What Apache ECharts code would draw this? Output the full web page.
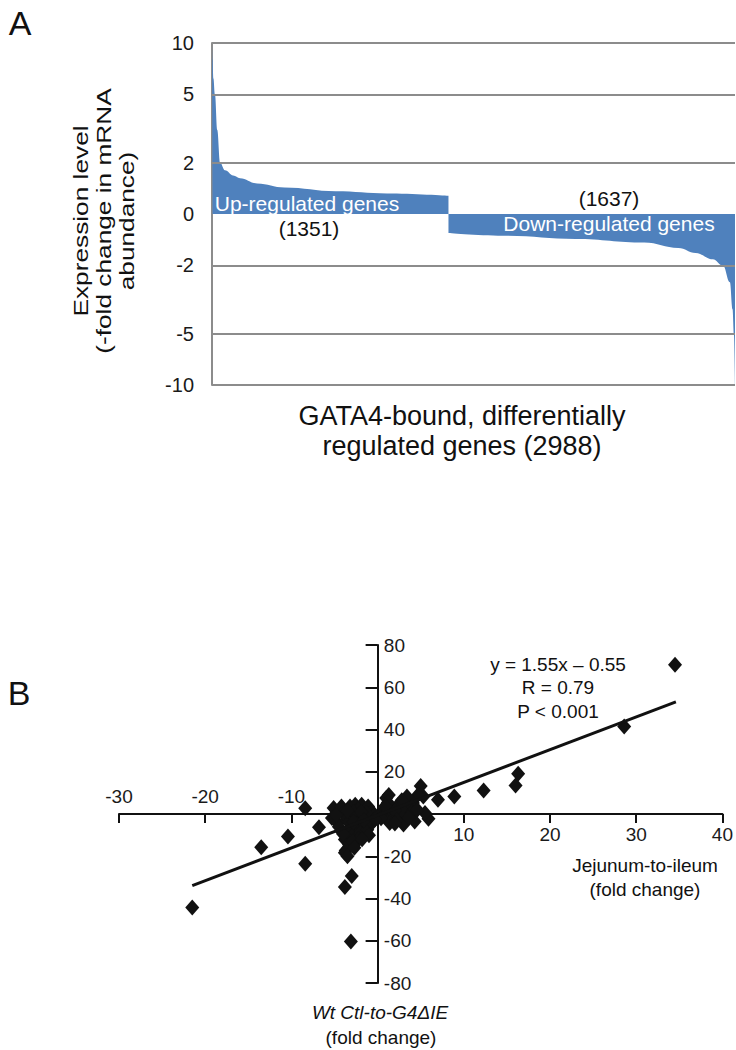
<!DOCTYPE html>
<html><head><meta charset="utf-8">
<script src="https://cdn.jsdelivr.net/npm/echarts@6/dist/echarts.min.js"></script>
<style>html,body{margin:0;padding:0;background:#fff}#c{width:736px;height:1050px}</style>
</head><body><div id="c"></div>
<script>
// ---------- Panel A data (gene rank 0..2988, fold change) ----------
const upRank   = [0, 3, 8, 17, 30, 46, 74, 121, 160, 258, 414, 707, 1000, 1351];
const upFold   = [10, 8, 6.2, 5, 3.1, 2.0, 1.8, 1.68, 1.62, 1.51, 1.43, 1.36, 1.32, 1.28];
const downRank = [1351, 1687, 2078, 2469, 2665, 2763, 2861, 2920, 2959, 2974, 2982, 2988];
const downFold = [-1.29, -1.34, -1.40, -1.47, -1.58, -1.69, -1.84, -2.01, -2.51, -3.6, -5.1, -10];
const aTickFold   = [10, 5, 2, 0, -2, -5, -10];
const aTickLabels = ['10', '5', '2', '0', '-2', '-5', '-10'];
const aGridFold   = [10, 5, 2, -2, -5, -10];
const totalGenes = 2988;

// ---------- Panel B data ----------
const bX = [34.5, 28.6, 16.3, 16.0, 12.3, 8.9, 7.0, 5.0, 5.9, 5.3, 4.7, 4.1, 3.4, 3.6, 2.4, 1.0, 1.4, 0.85, 1.8, 2.6, 4.3, 1.4, 3.0, 5.5, 3.0, 2.0, 0.5, 1.3, 2.2, 0.4,
  1.2, 2.8, 3.9, 4.6, 0.9, 2.0, 3.6,
  -21.5, -3.1, -3.8, -3.0, -8.4, -13.5, -10.4, -6.8, -8.4, -3.7,
  -5.1, -4.2, -3.2, -2.6, -1.85, -1.1, -0.7, -2.2, -5.3, -4.6, -3.6, -2.6, -1.7, -0.9, -4.2, -3.2, -2.2, -1.5, -3.8, -3.0, -3.4, -3.8, -0.5, -1.3, -2.8, -4.0, -2.0, -2.5, -1.2, -0.6, -4.5, -2.8, -1.9, -3.5, -1.0, -2.2, -3.0, -0.3, -4.8, -1.6,
  -3.3, -2.9, -3.5, -2.7, -4.0, -1.8];
const bY = [70.7, 41.4, 19.0, 13.5, 11.1, 8.3, 6.7, 13.3, -2.3, 8.3, 9.1, 5.2, 8.3, 2.8, 4.4, 7.6, 2.8, -0.3, -2.7, -1.1, -3.5, -4.3, -5.0, 0.5, 1.0, 1.5, 1.0, 9.0, -3.0, -2.0,
  5.5, 6.5, 0.5, 2.0, 3.8, -4.5, -1.8,
  -44.3, -60.4, -34.6, -29.3, -23.6, -15.7, -10.7, -6.3, 2.7, -17.3,
  2.8, 3.6, 3.6, 4.4, 4.4, 3.6, 1.3, 2.0, -1.9, -4.3, -2.7, -1.9, -2.7, -1.9, -8.2, -7.4, -5.8, -5.0, -12.1, -10.5, -16.1, -18.4, -0.8, 0.5, 0.8, 0.5, -9.0, -13.5, -7.5, -4.0, -6.0, -3.8, 1.0, 1.5, -10.0, -11.8, -14.0, -2.5, -0.5, -3.0,
  -14.6, -13.0, -20.0, -16.0, -9.5, -12.0];
const fitX = [-21.5, 34.6];
const fitY = [-33.9, 53.1];
const bXMin = -30, bXMax = 40, bXStep = 10;
const bYMin = -80, bYMax = 80, bYStep = 20;

// ---------- helpers ----------
const slog = v => v === 0 ? 0 : Math.sign(v) * Math.log2(Math.abs(v));
const L10 = Math.log2(10);
const FONT = "'Liberation Sans', Arial, Helvetica, sans-serif";
const BLUE = '#4f81bd';
const GRAY = '#8c8c8c';
const INK = '#111111';

const gridA = { left: 212, top: 43, width: 523, height: 342 };
const gridB = { left: 119, top: 645, width: 604, height: 338 };
// pixel distance of the zero lines from the grid edges (for label-only axes)
const xZeroPx = gridB.left + (0 - bXMin) / (bXMax - bXMin) * gridB.width;
const yZeroPx = gridB.top + (bYMax - 0) / (bYMax - bYMin) * gridB.height;

const upData = upRank.map((r, i) => [r, slog(upFold[i])]);
const downData = downRank.map((r, i) => [r, slog(downFold[i])]);
const aTickPos = aTickFold.map(slog);
const scatterData = bX.map((x, i) => [x, bY[i]]);
const fitData = fitX.map((x, i) => [x, fitY[i]]);

function txt(text, x, y, size, opts) {
  opts = opts || {};
  return {
    type: 'text', x: x, y: y, rotation: opts.rotation || 0, scaleX: opts.scaleX || 1, scaleY: opts.scaleY || 1,
    silent: true, z: 100,
    style: {
      text: text, fill: opts.color || INK, fontSize: size, fontFamily: FONT,
      fontStyle: opts.italic ? 'italic' : 'normal',
      align: 'center', verticalAlign: 'middle', lineHeight: opts.lineHeight || size * 1.2
    }
  };
}
const labelFont = { fontSize: 19, color: '#1a1a1a', fontFamily: FONT };
const bXBase = { gridIndex: 1, type: 'value', min: bXMin, max: bXMax, interval: bXStep, splitLine: { show: false } };
const bYBase = { gridIndex: 1, type: 'value', min: bYMin, max: bYMax, interval: bYStep, splitLine: { show: false } };

const chart = echarts.init(document.getElementById('c'), null, { renderer: 'svg', width: 736, height: 1050 });
chart.setOption({
  animation: false,
  backgroundColor: '#fff',
  grid: [gridA, gridB],
  xAxis: [
    { gridIndex: 0, type: 'value', min: 0, max: totalGenes, show: false },
    Object.assign({}, bXBase, { position: 'bottom',
      axisLine: { onZero: true, lineStyle: { color: INK, width: 2 } },
      axisTick: { show: true, length: 9, lineStyle: { color: INK, width: 2 } },
      axisLabel: { show: false } }),
    Object.assign({}, bXBase, { position: 'bottom', offset: -(gridB.top + gridB.height - yZeroPx),
      axisLine: { show: false, onZero: false }, axisTick: { show: false },
      axisLabel: Object.assign({ margin: 11, formatter: v => v > 0 ? String(v) : '' }, labelFont) }),
    Object.assign({}, bXBase, { position: 'top', offset: -(yZeroPx - gridB.top),
      axisLine: { show: false, onZero: false }, axisTick: { show: false },
      axisLabel: Object.assign({ margin: 8, formatter: v => v < 0 ? String(v) : '' }, labelFont) })
  ],
  yAxis: [
    { gridIndex: 0, type: 'value', min: -L10, max: L10,
      axisLine: { show: true, onZero: false, lineStyle: { color: GRAY, width: 2 } },
      axisTick: { show: false },
      axisLabel: { customValues: aTickPos, margin: 18, fontSize: 20, color: '#1a1a1a', fontFamily: FONT,
        formatter: v => { const i = aTickPos.findIndex(p => Math.abs(p - v) < 1e-6); return i >= 0 ? aTickLabels[i] : ''; } },
      splitLine: { show: false } },
    Object.assign({}, bYBase, { position: 'left',
      axisLine: { onZero: true, lineStyle: { color: INK, width: 2 } },
      axisTick: { show: true, length: 12, lineStyle: { color: INK, width: 2 } },
      axisLabel: { show: false } }),
    Object.assign({}, bYBase, { position: 'left', offset: -(xZeroPx - gridB.left),
      axisLine: { show: false, onZero: false }, axisTick: { show: false },
      axisLabel: Object.assign({ inside: true, margin: 6, formatter: v => v !== 0 ? String(v) : '' }, labelFont) })
  ],
  series: [
    { type: 'line', name: 'up', xAxisIndex: 0, yAxisIndex: 0, data: upData, symbol: 'none',
      smooth: 0.4, smoothMonotone: 'x', lineStyle: { width: 0 }, areaStyle: { color: BLUE, opacity: 1 } },
    { type: 'line', name: 'down', xAxisIndex: 0, yAxisIndex: 0, data: downData, symbol: 'none',
      smooth: 0.4, smoothMonotone: 'x', lineStyle: { width: 0 }, areaStyle: { color: BLUE, opacity: 1 },
      markLine: { silent: true, symbol: ['none', 'none'], label: { show: false },
        lineStyle: { color: GRAY, width: 2, type: 'solid' },
        data: aGridFold.map(v => ({ yAxis: slog(v) })) } },
    { type: 'scatter', name: 'genes', xAxisIndex: 1, yAxisIndex: 1, data: scatterData,
      symbol: 'diamond', symbolSize: [14, 16], itemStyle: { color: INK, opacity: 1 } },
    { type: 'line', name: 'fit', xAxisIndex: 1, yAxisIndex: 1, data: fitData, symbol: 'none',
      lineStyle: { color: INK, width: 3 }, z: 3 }
  ],
  graphic: [
    txt('A', 20, 23, 34),
    txt('B', 19, 693, 34),
    txt('Expression level\n(-fold change in mRNA\nabundance)', 103, 221, 21, { rotation: Math.PI / 2, scaleX: 1.25, lineHeight: 23 }),
    txt('GATA4-bound, differentially\nregulated genes (2988)', 462, 431, 27, { lineHeight: 30 }),
    txt('Up-regulated genes', 307, 203, 21, { color: '#ffffff' }),
    txt('(1351)', 309, 228, 21),
    txt('(1637)', 609, 198, 21),
    txt('Down-regulated genes', 609, 223, 21, { color: '#ffffff' }),
    txt('y = 1.55x \u2013 0.55\nR = 0.79\nP < 0.001', 558, 687.5, 19, { lineHeight: 23.5 }),
    txt('Jejunum-to-ileum\n(fold change)', 645, 877, 19, { lineHeight: 24 }),
    txt('Wt Ctl-to-G4\u0394IE', 380, 1012, 19, { italic: true }),
    txt('(fold change)', 381, 1037, 19)
  ]
});
</script>
</body></html>
